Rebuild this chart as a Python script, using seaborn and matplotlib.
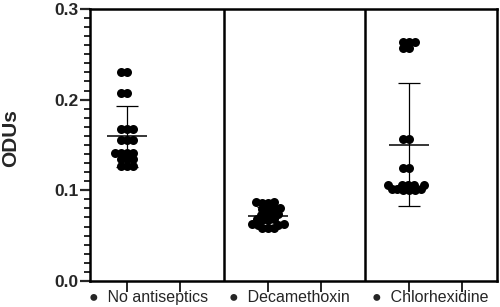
import numpy as np
import pandas as pd
import seaborn as sns
import matplotlib.pyplot as plt
from matplotlib.ticker import MultipleLocator

groups = ["No antiseptics", "Decamethoxin", "Chlorhexidine"]

no_antiseptics = [0.230, 0.230, 0.207, 0.207, 0.168, 0.168, 0.168,
                  0.155, 0.155, 0.155, 0.141, 0.141, 0.141, 0.141,
                  0.134, 0.134, 0.134, 0.127, 0.127, 0.127]
decamethoxin = [0.087, 0.087, 0.086, 0.086, 0.080, 0.080, 0.079, 0.079,
                0.074, 0.074, 0.073, 0.073, 0.068, 0.068, 0.067, 0.067,
                0.063, 0.063, 0.062, 0.062, 0.058, 0.058, 0.058]
chlorhexidine = [0.264, 0.264, 0.264, 0.257, 0.257, 0.157, 0.157,
                 0.124, 0.124, 0.106, 0.106, 0.106, 0.106, 0.106,
                 0.101, 0.101, 0.101, 0.100, 0.100, 0.100]

y_ticks = [0.0, 0.1, 0.2, 0.3]

sns.set_style("ticks")
plt.rcParams["font.family"] = ["Liberation Sans", "DejaVu Sans"]

step = 2.66
positions = [i * step for i in range(len(groups))]

df = pd.DataFrame({
    "x": np.concatenate([[p] * len(v) for p, v in
                         zip(positions, [no_antiseptics, decamethoxin, chlorhexidine])]),
    "ODUs": no_antiseptics + decamethoxin + chlorhexidine,
})

fig = plt.figure(figsize=(5, 3.07), dpi=100)
ax = fig.add_axes([0.18, 0.085, 0.814, 0.886])

sns.swarmplot(data=df, x="x", y="ODUs", native_scale=True, color="black",
              size=4.0, ax=ax, linewidth=0)

stats = df.groupby("x")["ODUs"].agg(["mean", "std"])
ax.errorbar(stats.index, stats["mean"], yerr=stats["std"], fmt="none",
            ecolor="black", elinewidth=0.9, capsize=8, capthick=0.9, zorder=3)
ax.hlines(stats["mean"], stats.index - 0.38, stats.index + 0.38,
          color="black", linewidth=1.1, zorder=3)

for p in positions[1:]:
    ax.axvline(p - 0.83, color="black", linewidth=1.8)

ax.set_xlim(-0.70, positions[-1] + 1.66)
ax.set_ylim(0, 0.3)
ax.set_yticks(y_ticks)
ax.set_yticklabels([f"{t:.1f}" for t in y_ticks], fontsize=12.5, fontweight="bold")
ax.yaxis.set_minor_locator(MultipleLocator(0.01))
ax.tick_params(axis="y", which="major", length=7, width=1.6, pad=1)
ax.tick_params(axis="y", which="minor", length=4, width=1.4)

ax.set_xticks([p + d for p in positions for d in (0, 1)])
ax.set_xticklabels([])
ax.tick_params(axis="x", which="major", length=8, width=1.4)

for spine in ax.spines.values():
    spine.set_visible(True)
    spine.set_linewidth(1.8)
    spine.set_color("black")

ax.set_xlabel("")
ax.set_ylabel("")
fig.text(0.022, 0.55, "ODUs", rotation=90, ha="center", va="center",
         fontsize=15, fontweight="bold")

trans = ax.get_xaxis_transform()
for p, g in zip(positions, groups):
    ax.text(p + 0.40, -0.06, "\u25CF  " + g, transform=trans, ha="center",
            va="center", fontsize=11.5, clip_on=False,
            fontdict={"family": ["Liberation Sans", "DejaVu Sans"]})

# lay out the swarm with small markers, then freeze it and enlarge the dots
fig.canvas.draw()
for coll in ax.collections:
    if "draw" in coll.__dict__:
        del coll.draw
        coll.set_sizes([42])

fig.savefig("out.png", dpi=100)
